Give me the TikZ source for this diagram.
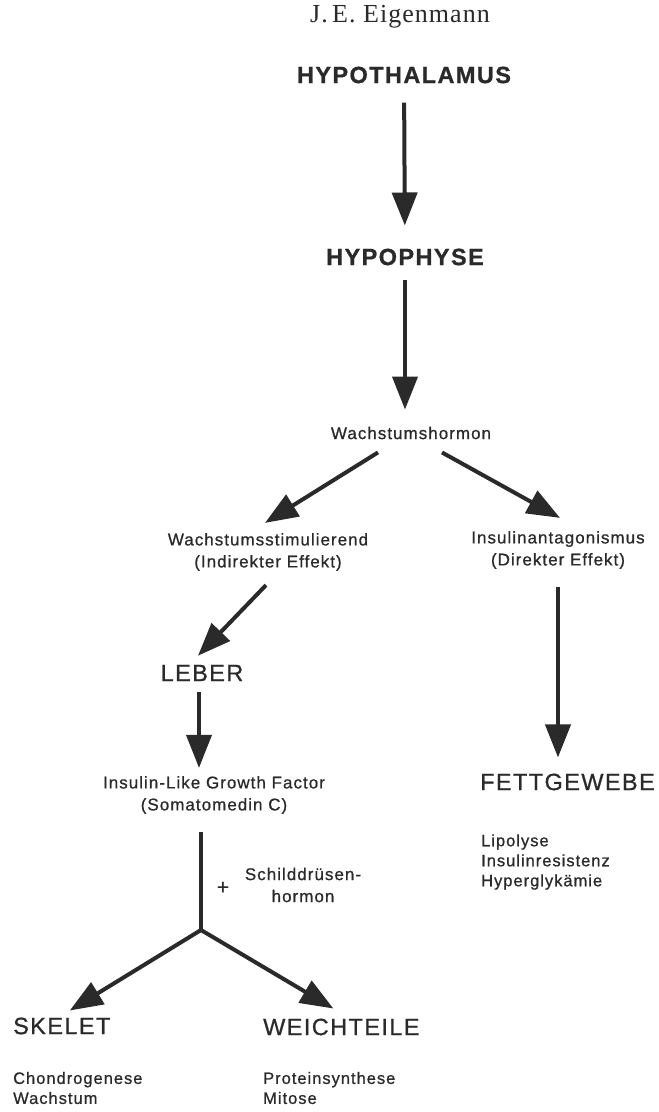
\documentclass[tikz,border=0pt]{standalone}
\usepackage{fontspec}
\setmainfont{Liberation Sans}[LetterSpace=6, FakeBold=0.8]
\newfontfamily\authorfont{Liberation Serif}[LetterSpace=4]
\usetikzlibrary{arrows.meta}
\definecolor{ink}{HTML}{2A2A2A}

\begin{document}
\begin{tikzpicture}[x=1pt, y=-1pt, inner sep=0pt, text=ink,
    gland/.style={font=\bfseries\fontsize{23.5}{26}\selectfont},
    organ/.style={font=\fontsize{23.5}{26}\selectfont},
    hormtext/.style={align=center, font=\fontsize{17}{22}\selectfont},
    effect/.style={align=left, anchor=west, font=\fontsize{16.5}{20}\selectfont},
    arr/.style={draw=ink, line width=4pt, -{Triangle[length=33pt, width=25pt]}}]
  \useasboundingbox (0,0) rectangle (659,1112);

  \node (author) at (400,17) {\authorfont\fontsize{26}{28}\selectfont J.\,E. Eigenmann};
  \node (hypothal) [gland] at (404,75) {HYPOTHALAMUS};
  \node (hypophyse) [gland] at (405,257) {HYPOPHYSE};
  \node (hormon) [hormtext] at (411,433) {Wachstumshormon};
  \node (stim) [hormtext] at (268,552) {Wachstumsstimulierend\\(Indirekter Effekt)};
  \node (antag) [hormtext] at (558,550) {Insulinantagonismus\\(Direkter Effekt)};
  \node (leber) [organ] at (202,673) {LEBER};
  \node (igf) [hormtext] at (214,795) {Insulin-Like Growth Factor\\(Somatomedin C)};
  \node (fett) [organ, anchor=west] at (480,782) {FETTGEWEBE};
  \node (fettfx) [effect] at (481,862) {Lipolyse\\Insulinresistenz\\Hyperglykämie};
  \node (plus) [hormtext, font=\fontsize{21}{22}\selectfont] at (223,888) {+};
  \node (schild) [hormtext] at (303,885) {Schilddrüsen-\\hormon};
  \coordinate (fork) at (201,930);
  \node (skelet) [organ, anchor=west] at (13,1026) {SKELET};
  \node (skeletfx) [effect] at (13,1088) {Chondrogenese\\Wachstum};
  \node (weich) [organ, anchor=west] at (263,1027) {WEICHTEILE};
  \node (weichfx) [effect] at (263,1088) {Proteinsynthese\\Mitose};

  \draw[arr, shorten <=19pt, shorten >=23pt] (hypothal) -- (hypophyse);
  \draw[arr, shorten <=14pt, shorten >=17pt] (hypophyse.south) -- (hypophyse.south |- hormon.north);
  \draw[arr] ([xshift=-33pt, yshift=-13pt]hormon.south) -- ([xshift=-3pt, yshift=10pt]stim.north);
  \draw[arr] ([xshift=31pt, yshift=-13pt]hormon.south) -- ([xshift=2pt, yshift=13pt]antag.north);
  \draw[arr] ([xshift=-2pt, yshift=-14pt]stim.south) -- ([xshift=-4pt, yshift=9pt]leber.north);
  \draw[arr, shorten <=18pt, shorten >=16pt] (antag.south) -- (antag.south |- fett.north);
  \draw[arr, shorten <=11pt, shorten >=8pt] ([xshift=-3pt]leber.south) -- ([xshift=-3pt]leber.south |- igf.north);
  \draw[draw=ink, line width=4pt, shorten <=18pt] (fork |- igf.south) -- (fork);
  \draw[arr] (fork) -- ([xshift=8pt, yshift=7pt]skelet.north);
  \draw[arr] (fork) -- ([xshift=-8pt, yshift=10pt]weich.north);
\end{tikzpicture}
\end{document}
